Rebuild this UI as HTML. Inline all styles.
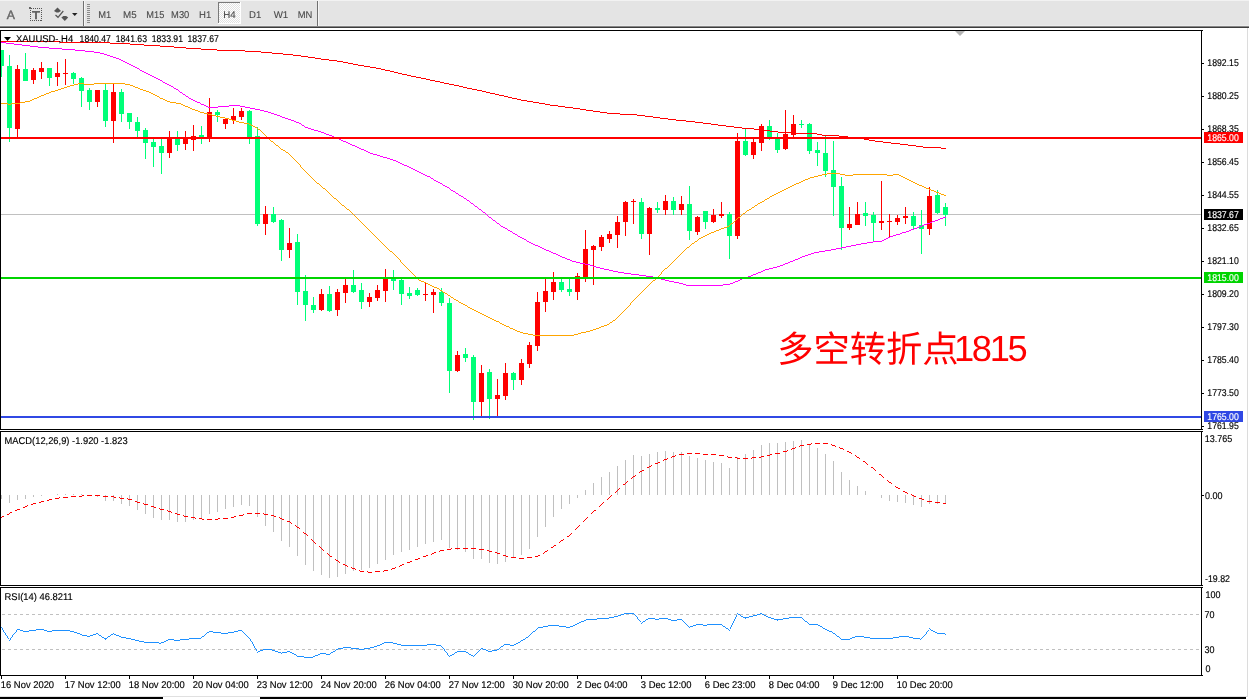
<!DOCTYPE html><html><head><meta charset="utf-8"><title>XAUUSD H4</title>
<style>html,body{margin:0;padding:0;background:#fff}body{width:1249px;height:699px;overflow:hidden}svg{display:block}text{font-family:"Liberation Sans",sans-serif;font-size:9.8px;fill:#000;white-space:pre;stroke:#000;stroke-width:.15px;text-rendering:geometricPrecision}.cj{font-family:"Liberation Sans","Noto Sans CJK SC",sans-serif}.tb{fill:#484848;font-size:9.9px;stroke:#484848;stroke-width:.1px}.cj{stroke:none}</style></head><body>
<svg width="1249" height="699" viewBox="0 0 1249 699">
<rect width="1249" height="699" fill="#fff"/>
<g id="toolbar" shape-rendering="crispEdges">
<rect x="0" y="0" width="1249" height="26" fill="#e4e4e4"/>
<rect x="0" y="25" width="1249" height="1" fill="#ebebeb"/>
<rect x="0" y="0" width="1249" height="1" fill="#f2f2f2"/>
<rect x="0" y="26" width="1249" height="1" fill="#868686"/>
<rect x="0" y="27" width="1249" height="1" fill="#3c3c3c"/>
<rect x="83" y="1" width="1" height="25" fill="#707070"/><rect x="84" y="1" width="1" height="25" fill="#f6f6f6"/>
<rect x="87" y="4" width="3" height="1" fill="#8c8c8c"/>
<rect x="87" y="6" width="3" height="1" fill="#8c8c8c"/>
<rect x="87" y="8" width="3" height="1" fill="#8c8c8c"/>
<rect x="87" y="10" width="3" height="1" fill="#8c8c8c"/>
<rect x="87" y="12" width="3" height="1" fill="#8c8c8c"/>
<rect x="87" y="14" width="3" height="1" fill="#8c8c8c"/>
<rect x="87" y="16" width="3" height="1" fill="#8c8c8c"/>
<rect x="87" y="18" width="3" height="1" fill="#8c8c8c"/>
<rect x="87" y="20" width="3" height="1" fill="#8c8c8c"/>
<rect x="87" y="22" width="3" height="1" fill="#8c8c8c"/>
<rect x="317" y="1" width="1" height="25" fill="#707070"/><rect x="318" y="1" width="1" height="25" fill="#f6f6f6"/>
<defs><pattern id="chk" width="2" height="2" patternUnits="userSpaceOnUse"><rect width="2" height="2" fill="#ffffff"/><rect width="1" height="1" fill="#e2e2e2"/><rect x="1" y="1" width="1" height="1" fill="#e2e2e2"/></pattern></defs>
<rect x="218" y="2" width="23" height="22" fill="url(#chk)"/>
<rect x="218" y="2" width="23" height="1" fill="#7a7a7a"/><rect x="218" y="2" width="1" height="22" fill="#7a7a7a"/>
<rect x="218" y="23" width="23" height="1" fill="#ffffff"/><rect x="240" y="2" width="1" height="22" fill="#ffffff"/>
</g>
<g id="icons">
<text x="6.7" y="19" style="font-size:12.2px;fill:#666;stroke:#666;stroke-width:.4px">A</text>
<rect x="30.5" y="8.5" width="11" height="12" fill="none" stroke="#555" stroke-width="1" stroke-dasharray="1 1" shape-rendering="crispEdges"/>
<rect x="29" y="7" width="2" height="2" fill="#666"/>
<text x="32" y="19" textLength="8" lengthAdjust="spacingAndGlyphs" style="font-size:11.2px;fill:#555;stroke:#555;stroke-width:.5px">T</text>
<path d="M57.5 7.5 L61 11 L58.5 12.5 L56.5 12.5 L54 11 Z" fill="#555"/>
<path d="M61.4 17.6 L63.4 16 L66.2 16 L68.2 17.6 L64.8 21 Z" fill="#555"/>
<path d="M55.5 15 L58 17.3 L63.3 11" fill="none" stroke="#555" stroke-width="1.2"/>
<path d="M72 13 L77.5 13 L74.75 16 Z" fill="#222"/>
</g>
<text class="tb" x="98.3" y="17.8" textLength="13.0" lengthAdjust="spacingAndGlyphs">M1</text>
<text class="tb" x="123.1" y="17.8" textLength="13.6" lengthAdjust="spacingAndGlyphs">M5</text>
<text class="tb" x="146.3" y="17.8" textLength="18.0" lengthAdjust="spacingAndGlyphs">M15</text>
<text class="tb" x="171.1" y="17.8" textLength="18.2" lengthAdjust="spacingAndGlyphs">M30</text>
<text class="tb" x="199.1" y="17.8" textLength="12.2" lengthAdjust="spacingAndGlyphs">H1</text>
<text class="tb" x="223.3" y="17.8" textLength="12.4" lengthAdjust="spacingAndGlyphs">H4</text>
<text class="tb" x="249.1" y="17.8" textLength="12.2" lengthAdjust="spacingAndGlyphs">D1</text>
<text class="tb" x="273.7" y="17.8" textLength="14.6" lengthAdjust="spacingAndGlyphs">W1</text>
<text class="tb" x="297.7" y="17.8" textLength="14.6" lengthAdjust="spacingAndGlyphs">MN</text>
<g id="main" shape-rendering="crispEdges">
<rect x="1" y="214" width="1200" height="1" fill="#c0c0c0"/>
<rect x="1" y="50" width="1" height="27" fill="#00ff78"/>
<rect x="1" y="50" width="3" height="16" fill="#00ff78"/>
<rect x="9" y="55" width="1" height="87" fill="#00ff78"/>
<rect x="7" y="66" width="5" height="62" fill="#00ff78"/>
<rect x="17" y="65" width="1" height="74" fill="#ff0000"/>
<rect x="15" y="69" width="5" height="60" fill="#ff0000"/>
<rect x="25" y="53" width="1" height="28" fill="#00ff78"/>
<rect x="23" y="69" width="5" height="12" fill="#00ff78"/>
<rect x="33" y="68" width="1" height="16" fill="#ff0000"/>
<rect x="31" y="70" width="5" height="10" fill="#ff0000"/>
<rect x="41" y="62" width="1" height="17" fill="#ff0000"/>
<rect x="39" y="68" width="5" height="4" fill="#ff0000"/>
<rect x="49" y="68" width="1" height="18" fill="#00ff78"/>
<rect x="47" y="68" width="5" height="10" fill="#00ff78"/>
<rect x="57" y="62" width="1" height="24" fill="#ff0000"/>
<rect x="55" y="73" width="5" height="4" fill="#ff0000"/>
<rect x="65" y="59" width="1" height="26" fill="#ff0000"/>
<rect x="63" y="73" width="5" height="1" fill="#ff0000"/>
<rect x="73" y="72" width="1" height="12" fill="#00ff78"/>
<rect x="71" y="73" width="5" height="6" fill="#00ff78"/>
<rect x="81" y="77" width="1" height="30" fill="#00ff78"/>
<rect x="79" y="78" width="5" height="13" fill="#00ff78"/>
<rect x="89" y="88" width="1" height="22" fill="#00ff78"/>
<rect x="87" y="90" width="5" height="12" fill="#00ff78"/>
<rect x="97" y="90" width="1" height="17" fill="#ff0000"/>
<rect x="95" y="90" width="5" height="12" fill="#ff0000"/>
<rect x="105" y="84" width="1" height="43" fill="#00ff78"/>
<rect x="103" y="90" width="5" height="31" fill="#00ff78"/>
<rect x="113" y="84" width="1" height="59" fill="#ff0000"/>
<rect x="111" y="92" width="5" height="29" fill="#ff0000"/>
<rect x="121" y="89" width="1" height="33" fill="#00ff78"/>
<rect x="119" y="92" width="5" height="22" fill="#00ff78"/>
<rect x="129" y="113" width="1" height="16" fill="#00ff78"/>
<rect x="127" y="113" width="5" height="9" fill="#00ff78"/>
<rect x="137" y="117" width="1" height="20" fill="#00ff78"/>
<rect x="135" y="122" width="5" height="9" fill="#00ff78"/>
<rect x="145" y="128" width="1" height="31" fill="#00ff78"/>
<rect x="143" y="130" width="5" height="13" fill="#00ff78"/>
<rect x="153" y="139" width="1" height="28" fill="#00ff78"/>
<rect x="151" y="142" width="5" height="5" fill="#00ff78"/>
<rect x="161" y="139" width="1" height="35" fill="#00ff78"/>
<rect x="159" y="146" width="5" height="7" fill="#00ff78"/>
<rect x="169" y="131" width="1" height="27" fill="#ff0000"/>
<rect x="167" y="139" width="5" height="14" fill="#ff0000"/>
<rect x="177" y="131" width="1" height="20" fill="#00ff78"/>
<rect x="175" y="139" width="5" height="6" fill="#00ff78"/>
<rect x="185" y="131" width="1" height="19" fill="#ff0000"/>
<rect x="183" y="138" width="5" height="6" fill="#ff0000"/>
<rect x="193" y="125" width="1" height="26" fill="#ff0000"/>
<rect x="191" y="136" width="5" height="4" fill="#ff0000"/>
<rect x="201" y="126" width="1" height="18" fill="#00ff78"/>
<rect x="199" y="135" width="5" height="3" fill="#00ff78"/>
<rect x="209" y="98" width="1" height="44" fill="#ff0000"/>
<rect x="207" y="112" width="5" height="26" fill="#ff0000"/>
<rect x="217" y="110" width="1" height="12" fill="#00ff78"/>
<rect x="215" y="112" width="5" height="3" fill="#00ff78"/>
<rect x="225" y="119" width="1" height="10" fill="#ff0000"/>
<rect x="223" y="119" width="5" height="5" fill="#ff0000"/>
<rect x="233" y="108" width="1" height="16" fill="#ff0000"/>
<rect x="231" y="116" width="5" height="4" fill="#ff0000"/>
<rect x="241" y="108" width="1" height="12" fill="#ff0000"/>
<rect x="239" y="111" width="5" height="6" fill="#ff0000"/>
<rect x="249" y="110" width="1" height="34" fill="#00ff78"/>
<rect x="247" y="111" width="5" height="27" fill="#00ff78"/>
<rect x="257" y="127" width="1" height="99" fill="#00ff78"/>
<rect x="255" y="136" width="5" height="88" fill="#00ff78"/>
<rect x="265" y="206" width="1" height="29" fill="#ff0000"/>
<rect x="263" y="214" width="5" height="10" fill="#ff0000"/>
<rect x="273" y="207" width="1" height="16" fill="#00ff78"/>
<rect x="271" y="214" width="5" height="8" fill="#00ff78"/>
<rect x="281" y="219" width="1" height="42" fill="#00ff78"/>
<rect x="279" y="220" width="5" height="30" fill="#00ff78"/>
<rect x="289" y="228" width="1" height="30" fill="#ff0000"/>
<rect x="287" y="243" width="5" height="7" fill="#ff0000"/>
<rect x="297" y="234" width="1" height="71" fill="#00ff78"/>
<rect x="295" y="242" width="5" height="50" fill="#00ff78"/>
<rect x="305" y="275" width="1" height="46" fill="#00ff78"/>
<rect x="303" y="291" width="5" height="14" fill="#00ff78"/>
<rect x="313" y="297" width="1" height="16" fill="#00ff78"/>
<rect x="311" y="305" width="5" height="5" fill="#00ff78"/>
<rect x="321" y="289" width="1" height="22" fill="#ff0000"/>
<rect x="319" y="294" width="5" height="16" fill="#ff0000"/>
<rect x="329" y="286" width="1" height="26" fill="#00ff78"/>
<rect x="327" y="294" width="5" height="17" fill="#00ff78"/>
<rect x="337" y="289" width="1" height="27" fill="#ff0000"/>
<rect x="335" y="292" width="5" height="18" fill="#ff0000"/>
<rect x="345" y="279" width="1" height="24" fill="#ff0000"/>
<rect x="343" y="285" width="5" height="8" fill="#ff0000"/>
<rect x="353" y="270" width="1" height="23" fill="#00ff78"/>
<rect x="351" y="285" width="5" height="7" fill="#00ff78"/>
<rect x="361" y="283" width="1" height="26" fill="#00ff78"/>
<rect x="359" y="290" width="5" height="12" fill="#00ff78"/>
<rect x="369" y="293" width="1" height="14" fill="#ff0000"/>
<rect x="367" y="297" width="5" height="5" fill="#ff0000"/>
<rect x="377" y="285" width="1" height="16" fill="#ff0000"/>
<rect x="375" y="290" width="5" height="8" fill="#ff0000"/>
<rect x="385" y="269" width="1" height="33" fill="#ff0000"/>
<rect x="383" y="279" width="5" height="12" fill="#ff0000"/>
<rect x="393" y="270" width="1" height="20" fill="#00ff78"/>
<rect x="391" y="279" width="5" height="2" fill="#00ff78"/>
<rect x="401" y="279" width="1" height="26" fill="#00ff78"/>
<rect x="399" y="280" width="5" height="14" fill="#00ff78"/>
<rect x="409" y="287" width="1" height="12" fill="#00ff78"/>
<rect x="407" y="293" width="5" height="3" fill="#00ff78"/>
<rect x="417" y="288" width="1" height="8" fill="#00ff78"/>
<rect x="415" y="290" width="5" height="5" fill="#00ff78"/>
<rect x="425" y="282" width="1" height="19" fill="#ff0000"/>
<rect x="423" y="294" width="5" height="1" fill="#ff0000"/>
<rect x="433" y="289" width="1" height="24" fill="#ff0000"/>
<rect x="431" y="292" width="5" height="3" fill="#ff0000"/>
<rect x="441" y="288" width="1" height="18" fill="#00ff78"/>
<rect x="439" y="292" width="5" height="11" fill="#00ff78"/>
<rect x="449" y="298" width="1" height="95" fill="#00ff78"/>
<rect x="447" y="303" width="5" height="68" fill="#00ff78"/>
<rect x="457" y="351" width="1" height="21" fill="#ff0000"/>
<rect x="455" y="355" width="5" height="16" fill="#ff0000"/>
<rect x="465" y="348" width="1" height="14" fill="#00ff78"/>
<rect x="463" y="354" width="5" height="4" fill="#00ff78"/>
<rect x="473" y="355" width="1" height="65" fill="#00ff78"/>
<rect x="471" y="357" width="5" height="45" fill="#00ff78"/>
<rect x="481" y="365" width="1" height="52" fill="#ff0000"/>
<rect x="479" y="373" width="5" height="29" fill="#ff0000"/>
<rect x="489" y="369" width="1" height="50" fill="#00ff78"/>
<rect x="487" y="372" width="5" height="27" fill="#00ff78"/>
<rect x="497" y="379" width="1" height="38" fill="#ff0000"/>
<rect x="495" y="395" width="5" height="4" fill="#ff0000"/>
<rect x="505" y="363" width="1" height="37" fill="#ff0000"/>
<rect x="503" y="373" width="5" height="23" fill="#ff0000"/>
<rect x="513" y="372" width="1" height="18" fill="#00ff78"/>
<rect x="511" y="373" width="5" height="7" fill="#00ff78"/>
<rect x="521" y="359" width="1" height="26" fill="#ff0000"/>
<rect x="519" y="363" width="5" height="17" fill="#ff0000"/>
<rect x="529" y="342" width="1" height="26" fill="#ff0000"/>
<rect x="527" y="345" width="5" height="19" fill="#ff0000"/>
<rect x="537" y="292" width="1" height="59" fill="#ff0000"/>
<rect x="535" y="302" width="5" height="44" fill="#ff0000"/>
<rect x="545" y="279" width="1" height="33" fill="#ff0000"/>
<rect x="543" y="291" width="5" height="11" fill="#ff0000"/>
<rect x="553" y="272" width="1" height="28" fill="#ff0000"/>
<rect x="551" y="282" width="5" height="10" fill="#ff0000"/>
<rect x="561" y="279" width="1" height="13" fill="#00ff78"/>
<rect x="559" y="282" width="5" height="8" fill="#00ff78"/>
<rect x="569" y="279" width="1" height="17" fill="#00ff78"/>
<rect x="567" y="289" width="5" height="3" fill="#00ff78"/>
<rect x="577" y="273" width="1" height="27" fill="#ff0000"/>
<rect x="575" y="276" width="5" height="16" fill="#ff0000"/>
<rect x="585" y="230" width="1" height="52" fill="#ff0000"/>
<rect x="583" y="249" width="5" height="29" fill="#ff0000"/>
<rect x="593" y="245" width="1" height="40" fill="#ff0000"/>
<rect x="591" y="246" width="5" height="4" fill="#ff0000"/>
<rect x="601" y="235" width="1" height="16" fill="#ff0000"/>
<rect x="599" y="237" width="5" height="10" fill="#ff0000"/>
<rect x="609" y="231" width="1" height="12" fill="#ff0000"/>
<rect x="607" y="234" width="5" height="5" fill="#ff0000"/>
<rect x="617" y="216" width="1" height="32" fill="#ff0000"/>
<rect x="615" y="222" width="5" height="13" fill="#ff0000"/>
<rect x="625" y="201" width="1" height="35" fill="#ff0000"/>
<rect x="623" y="202" width="5" height="20" fill="#ff0000"/>
<rect x="633" y="199" width="1" height="25" fill="#ff0000"/>
<rect x="631" y="201" width="5" height="1" fill="#ff0000"/>
<rect x="641" y="198" width="1" height="41" fill="#00ff78"/>
<rect x="639" y="202" width="5" height="32" fill="#00ff78"/>
<rect x="649" y="207" width="1" height="48" fill="#ff0000"/>
<rect x="647" y="208" width="5" height="26" fill="#ff0000"/>
<rect x="657" y="202" width="1" height="11" fill="#00ff78"/>
<rect x="655" y="208" width="5" height="2" fill="#00ff78"/>
<rect x="665" y="195" width="1" height="20" fill="#ff0000"/>
<rect x="663" y="201" width="5" height="9" fill="#ff0000"/>
<rect x="673" y="197" width="1" height="18" fill="#00ff78"/>
<rect x="671" y="201" width="5" height="9" fill="#00ff78"/>
<rect x="681" y="196" width="1" height="19" fill="#ff0000"/>
<rect x="679" y="204" width="5" height="6" fill="#ff0000"/>
<rect x="689" y="186" width="1" height="54" fill="#00ff78"/>
<rect x="687" y="204" width="5" height="27" fill="#00ff78"/>
<rect x="697" y="216" width="1" height="19" fill="#ff0000"/>
<rect x="695" y="217" width="5" height="15" fill="#ff0000"/>
<rect x="705" y="211" width="1" height="18" fill="#00ff78"/>
<rect x="703" y="211" width="5" height="11" fill="#00ff78"/>
<rect x="713" y="209" width="1" height="14" fill="#ff0000"/>
<rect x="711" y="215" width="5" height="7" fill="#ff0000"/>
<rect x="721" y="202" width="1" height="16" fill="#ff0000"/>
<rect x="719" y="214" width="5" height="2" fill="#ff0000"/>
<rect x="729" y="212" width="1" height="47" fill="#00ff78"/>
<rect x="727" y="214" width="5" height="22" fill="#00ff78"/>
<rect x="737" y="133" width="1" height="106" fill="#ff0000"/>
<rect x="735" y="141" width="5" height="95" fill="#ff0000"/>
<rect x="745" y="129" width="1" height="27" fill="#00ff78"/>
<rect x="743" y="141" width="5" height="14" fill="#00ff78"/>
<rect x="753" y="139" width="1" height="20" fill="#ff0000"/>
<rect x="751" y="142" width="5" height="13" fill="#ff0000"/>
<rect x="761" y="124" width="1" height="27" fill="#ff0000"/>
<rect x="759" y="126" width="5" height="17" fill="#ff0000"/>
<rect x="769" y="120" width="1" height="20" fill="#00ff78"/>
<rect x="767" y="126" width="5" height="12" fill="#00ff78"/>
<rect x="777" y="133" width="1" height="20" fill="#00ff78"/>
<rect x="775" y="139" width="5" height="11" fill="#00ff78"/>
<rect x="785" y="110" width="1" height="40" fill="#ff0000"/>
<rect x="783" y="134" width="5" height="15" fill="#ff0000"/>
<rect x="793" y="115" width="1" height="23" fill="#ff0000"/>
<rect x="791" y="124" width="5" height="11" fill="#ff0000"/>
<rect x="801" y="120" width="1" height="8" fill="#00ff78"/>
<rect x="799" y="124" width="5" height="1" fill="#00ff78"/>
<rect x="809" y="123" width="1" height="31" fill="#00ff78"/>
<rect x="807" y="124" width="5" height="27" fill="#00ff78"/>
<rect x="817" y="142" width="1" height="24" fill="#00ff78"/>
<rect x="815" y="150" width="5" height="3" fill="#00ff78"/>
<rect x="825" y="136" width="1" height="41" fill="#00ff78"/>
<rect x="823" y="153" width="5" height="18" fill="#00ff78"/>
<rect x="833" y="141" width="1" height="75" fill="#00ff78"/>
<rect x="831" y="170" width="5" height="17" fill="#00ff78"/>
<rect x="841" y="177" width="1" height="73" fill="#00ff78"/>
<rect x="839" y="186" width="5" height="42" fill="#00ff78"/>
<rect x="849" y="207" width="1" height="23" fill="#ff0000"/>
<rect x="847" y="224" width="5" height="4" fill="#ff0000"/>
<rect x="857" y="202" width="1" height="23" fill="#ff0000"/>
<rect x="855" y="214" width="5" height="11" fill="#ff0000"/>
<rect x="865" y="202" width="1" height="24" fill="#00ff78"/>
<rect x="863" y="213" width="5" height="3" fill="#00ff78"/>
<rect x="873" y="212" width="1" height="29" fill="#00ff78"/>
<rect x="871" y="215" width="5" height="8" fill="#00ff78"/>
<rect x="881" y="181" width="1" height="49" fill="#ff0000"/>
<rect x="879" y="221" width="5" height="2" fill="#ff0000"/>
<rect x="889" y="214" width="1" height="23" fill="#ff0000"/>
<rect x="887" y="221" width="5" height="1" fill="#ff0000"/>
<rect x="897" y="215" width="1" height="10" fill="#ff0000"/>
<rect x="895" y="218" width="5" height="4" fill="#ff0000"/>
<rect x="905" y="207" width="1" height="17" fill="#ff0000"/>
<rect x="903" y="216" width="5" height="2" fill="#ff0000"/>
<rect x="913" y="212" width="1" height="18" fill="#00ff78"/>
<rect x="911" y="216" width="5" height="10" fill="#00ff78"/>
<rect x="921" y="210" width="1" height="44" fill="#00ff78"/>
<rect x="919" y="225" width="5" height="4" fill="#00ff78"/>
<rect x="929" y="187" width="1" height="48" fill="#ff0000"/>
<rect x="927" y="196" width="5" height="33" fill="#ff0000"/>
<rect x="937" y="190" width="1" height="24" fill="#00ff78"/>
<rect x="935" y="195" width="5" height="18" fill="#00ff78"/>
<rect x="945" y="203" width="1" height="23" fill="#00ff78"/>
<rect x="943" y="207" width="5" height="8" fill="#00ff78"/>
<path d="M1 41.5h59M60 42.5h50M110 43.5h20M130 44.5h14M144 45.5h16M160 46.5h14M174 47.5h12M186 48.5h15M201 49.5h16M217 50.5h28M245 51.5h16M261 52.5h11M272 53.5h11M283 54.5h10M293 55.5h8M301 56.5h7M308 57.5h7M315 58.5h6M321 59.5h8M329 60.5h8M337 61.5h6M343 62.5h5M348 63.5h5M353 64.5h5M358 65.5h6M364 66.5h6M370 67.5h6M376 68.5h5M381 69.5h4M385 70.5h5M390 71.5h4M394 72.5h4M398 73.5h4M402 74.5h5M407 75.5h4M411 76.5h5M416 77.5h5M421 78.5h5M426 79.5h4M430 80.5h5M435 81.5h5M440 82.5h4M444 83.5h5M449 84.5h5M454 85.5h5M459 86.5h4M463 87.5h4M467 88.5h5M472 89.5h5M477 90.5h5M482 91.5h4M486 92.5h4M490 93.5h5M495 94.5h4M499 95.5h5M504 96.5h4M508 97.5h4M512 98.5h5M517 99.5h4M521 100.5h6M527 101.5h6M533 102.5h6M539 103.5h6M545 104.5h5M550 105.5h8M558 106.5h7M565 107.5h8M573 108.5h7M580 109.5h6M586 110.5h7M593 111.5h7M600 112.5h7M607 113.5h13M620 114.5h17M637 115.5h8M645 116.5h8M653 117.5h7M660 118.5h8M668 119.5h8M676 120.5h10M686 121.5h9M695 122.5h8M703 123.5h8M711 124.5h7M718 125.5h8M726 126.5h8M734 127.5h8M742 128.5h12M754 129.5h9M763 130.5h7M770 131.5h8M778 132.5h15M793 133.5h24M817 134.5h5M822 135.5h17M839 136.5h9M848 137.5h9M857 138.5h7M864 139.5h5M869 140.5h6M875 141.5h8M883 142.5h8M891 143.5h9M900 144.5h8M908 145.5h8M916 146.5h7M923 147.5h18M941 148.5h5" fill="none" stroke="#ff0000" stroke-width="1"/>
<path d="M1 42.5h5M6 43.5h8M14 44.5h8M22 45.5h8M30 46.5h8M38 47.5h11M49 48.5h13M62 49.5h13M75 50.5h10M85 51.5h9M94 52.5h6M100 53.5h4M104 54.5h3M107 55.5h3M110 56.5h3M113 57.5h3M116 58.5h3M119 59.5h2M121 60.5h2M123 61.5h2M125 62.5h2M127 63.5h2M129 64.5h2M131 65.5h2M133 66.5h2M135 67.5h2M137 68.5h2M139 69.5h1M140 70.5h2M142 71.5h2M144 72.5h2M146 73.5h2M148 74.5h2M150 75.5h2M152 76.5h2M154 77.5h2M156 78.5h2M158 79.5h2M160 80.5h2M162 81.5h1M163 82.5h2M165 83.5h2M167 84.5h2M169 85.5h2M171 86.5h2M173 87.5h1M174 88.5h2M176 89.5h2M178 90.5h1M179 91.5h1M180 92.5h2M182 93.5h1M183 94.5h2M185 95.5h1M186 96.5h2M188 97.5h1M189 98.5h2M191 99.5h2M193 100.5h2M195 101.5h2M197 102.5h3M200 103.5h1M201 104.5h3M204 105.5h2M229 105.5h11M206 106.5h2M218 106.5h11M240 106.5h5M208 107.5h10M245 107.5h5M250 108.5h5M255 109.5h5M260 110.5h4M264 111.5h4M268 112.5h3M271 113.5h3M274 114.5h3M277 115.5h3M280 116.5h2M282 117.5h3M285 118.5h3M288 119.5h3M291 120.5h3M294 121.5h2M296 122.5h3M299 123.5h2M301 124.5h1M302 125.5h2M304 126.5h1M305 127.5h3M308 128.5h3M311 129.5h3M314 130.5h4M318 131.5h3M321 132.5h3M324 133.5h2M326 134.5h3M329 135.5h3M332 136.5h2M334 137.5h2M336 138.5h3M339 139.5h2M341 140.5h2M343 141.5h3M346 142.5h2M348 143.5h2M350 144.5h2M352 145.5h3M355 146.5h2M357 147.5h2M359 148.5h2M361 149.5h3M364 150.5h2M366 151.5h2M368 152.5h2M370 153.5h3M373 154.5h4M377 155.5h3M380 156.5h3M383 157.5h4M387 158.5h3M390 159.5h3M393 160.5h3M396 161.5h2M398 162.5h2M400 163.5h2M402 164.5h2M404 165.5h3M407 166.5h2M409 167.5h2M411 168.5h2M413 169.5h2M415 170.5h2M417 171.5h2M419 172.5h2M421 173.5h2M423 174.5h2M425 175.5h2M427 176.5h3M430 177.5h1M431 178.5h2M433 179.5h1M434 180.5h2M436 181.5h2M438 182.5h2M440 183.5h2M442 184.5h1M443 185.5h2M445 186.5h2M447 187.5h2M449 188.5h1M450 189.5h1M451 190.5h2M453 191.5h2M455 192.5h1M456 193.5h2M458 194.5h1M459 195.5h2M461 196.5h2M463 197.5h1M464 198.5h2M466 199.5h1M467 200.5h2M469 201.5h1M470 202.5h1M471 203.5h2M473 204.5h1M474 205.5h1M475 206.5h2M477 207.5h1M478 208.5h1M479 209.5h2M481 210.5h1M482 211.5h1M483 212.5h2M485 213.5h1M486 214.5h1M487 215.5h1M488 216.5h1M489 217.5h2M943 217.5h3M491 218.5h1M940 218.5h3M492 219.5h1M938 219.5h2M493 220.5h2M935 220.5h3M495 221.5h1M932 221.5h3M496 222.5h1M930 222.5h2M497 223.5h2M927 223.5h3M499 224.5h1M924 224.5h3M500 225.5h1M922 225.5h2M501 226.5h2M919 226.5h3M503 227.5h2M917 227.5h2M505 228.5h2M914 228.5h3M507 229.5h1M911 229.5h3M508 230.5h2M909 230.5h2M510 231.5h2M906 231.5h3M512 232.5h1M902 232.5h4M513 233.5h2M900 233.5h2M515 234.5h2M896 234.5h4M517 235.5h1M893 235.5h3M518 236.5h2M890 236.5h3M520 237.5h2M888 237.5h2M522 238.5h2M886 238.5h2M524 239.5h2M884 239.5h2M526 240.5h1M882 240.5h2M527 241.5h2M873 241.5h9M529 242.5h2M867 242.5h6M531 243.5h2M861 243.5h6M533 244.5h2M856 244.5h5M535 245.5h3M851 245.5h5M538 246.5h2M846 246.5h5M540 247.5h2M841 247.5h5M542 248.5h2M836 248.5h5M544 249.5h2M831 249.5h5M546 250.5h3M825 250.5h6M549 251.5h2M819 251.5h6M551 252.5h2M814 252.5h5M553 253.5h3M811 253.5h3M556 254.5h2M808 254.5h3M558 255.5h2M805 255.5h3M560 256.5h2M802 256.5h3M562 257.5h3M800 257.5h2M565 258.5h2M798 258.5h2M567 259.5h3M795 259.5h3M570 260.5h2M793 260.5h2M572 261.5h4M790 261.5h3M576 262.5h4M788 262.5h2M580 263.5h5M785 263.5h3M585 264.5h5M783 264.5h2M590 265.5h3M780 265.5h3M593 266.5h3M777 266.5h3M596 267.5h4M773 267.5h4M600 268.5h4M769 268.5h4M604 269.5h5M765 269.5h4M609 270.5h4M763 270.5h2M613 271.5h5M761 271.5h2M618 272.5h6M758 272.5h3M624 273.5h7M756 273.5h2M631 274.5h8M753 274.5h3M639 275.5h7M751 275.5h2M646 276.5h7M748 276.5h3M653 277.5h4M745 277.5h3M657 278.5h4M742 278.5h3M661 279.5h4M740 279.5h2M665 280.5h4M738 280.5h2M669 281.5h5M735 281.5h3M674 282.5h5M733 282.5h2M679 283.5h4M730 283.5h3M683 284.5h3M723 284.5h7M686 285.5h37" fill="none" stroke="#ff00ff" stroke-width="1"/>
<path d="M78 83.5h6M94 83.5h31M74 84.5h4M84 84.5h10M125 84.5h5M70 85.5h4M130 85.5h3M67 86.5h3M133 86.5h2M64 87.5h3M135 87.5h3M61 88.5h3M138 88.5h2M58 89.5h3M140 89.5h3M55 90.5h3M143 90.5h3M51 91.5h4M146 91.5h3M49 92.5h2M149 92.5h2M46 93.5h3M151 93.5h2M44 94.5h2M153 94.5h2M41 95.5h3M155 95.5h2M39 96.5h2M157 96.5h2M37 97.5h2M159 97.5h1M34 98.5h3M160 98.5h3M32 99.5h2M163 99.5h2M30 100.5h2M165 100.5h2M25 101.5h5M167 101.5h3M20 102.5h5M170 102.5h6M1 103.5h7M11 103.5h9M176 103.5h5M8 104.5h3M181 104.5h2M183 105.5h2M185 106.5h3M188 107.5h2M190 108.5h2M192 109.5h3M195 110.5h3M198 111.5h2M200 112.5h4M204 113.5h4M208 114.5h4M212 115.5h4M216 116.5h4M220 117.5h5M225 118.5h4M229 119.5h3M232 120.5h4M236 121.5h3M239 122.5h5M244 123.5h5M249 124.5h2M251 125.5h2M253 126.5h2M255 127.5h2M257 128.5h1M258 129.5h2M260 130.5h1M261 131.5h1M262 132.5h1M263 133.5h1M264 134.5h1M265 135.5h1M266 136.5h1M267 137.5h1M268 138.5h1M269 139.5h1M270 140.5h1M271 141.5h2M273 142.5h1M274 143.5h1M275 144.5h1M276 145.5h2M278 146.5h1M279 147.5h1M280 148.5h1M281 149.5h2M283 150.5h2M285 151.5h1M286 152.5h2M288 153.5h1M289 154.5h1M290 155.5h1M291 156.5h1M292 157.5h1M293 158.5h1M294 159.5h1M295 160.5h1M296 161.5h1M297 162.5h1M298 163.5h1M299 164.5h1M300 165.5h1M300 166.5h1M301 167.5h1M302 168.5h1M303 169.5h1M304 170.5h1M305 171.5h1M306 172.5h1M307 173.5h1M827 173.5h13M308 174.5h1M822 174.5h5M840 174.5h5M853 174.5h34M893 174.5h6M309 175.5h1M818 175.5h4M845 175.5h8M887 175.5h6M899 175.5h2M310 176.5h1M814 176.5h4M901 176.5h2M311 177.5h1M810 177.5h4M903 177.5h2M312 178.5h1M808 178.5h2M905 178.5h2M313 179.5h1M805 179.5h3M907 179.5h2M314 180.5h1M803 180.5h2M909 180.5h2M315 181.5h1M801 181.5h2M911 181.5h2M316 182.5h1M799 182.5h2M913 182.5h2M317 183.5h2M796 183.5h3M915 183.5h2M319 184.5h1M794 184.5h2M917 184.5h2M320 185.5h1M792 185.5h2M919 185.5h3M321 186.5h1M790 186.5h2M922 186.5h2M322 187.5h1M788 187.5h2M924 187.5h2M323 188.5h2M786 188.5h2M926 188.5h3M325 189.5h1M784 189.5h2M929 189.5h2M326 190.5h1M782 190.5h2M931 190.5h3M327 191.5h1M780 191.5h2M934 191.5h2M328 192.5h1M778 192.5h2M936 192.5h3M329 193.5h1M776 193.5h2M939 193.5h2M330 194.5h1M774 194.5h2M941 194.5h3M331 195.5h1M772 195.5h2M944 195.5h2M332 196.5h1M770 196.5h2M333 197.5h1M769 197.5h1M334 198.5h2M767 198.5h2M336 199.5h1M765 199.5h2M337 200.5h1M764 200.5h1M338 201.5h1M762 201.5h2M339 202.5h1M760 202.5h2M340 203.5h1M758 203.5h2M341 204.5h1M757 204.5h1M342 205.5h2M755 205.5h2M344 206.5h1M754 206.5h1M345 207.5h1M752 207.5h2M346 208.5h1M751 208.5h1M347 209.5h2M749 209.5h2M349 210.5h1M747 210.5h2M350 211.5h1M746 211.5h1M351 212.5h1M745 212.5h1M352 213.5h1M743 213.5h2M353 214.5h1M742 214.5h1M354 215.5h1M741 215.5h1M355 216.5h1M740 216.5h1M356 217.5h1M738 217.5h2M357 218.5h1M737 218.5h1M358 219.5h1M736 219.5h1M359 220.5h1M735 220.5h1M360 221.5h1M734 221.5h1M361 222.5h1M733 222.5h1M362 223.5h1M731 223.5h2M363 224.5h1M730 224.5h1M364 225.5h1M729 225.5h1M365 226.5h1M727 226.5h2M366 227.5h1M724 227.5h3M367 228.5h1M721 228.5h3M368 229.5h1M719 229.5h2M369 230.5h1M716 230.5h3M370 231.5h1M714 231.5h2M371 232.5h1M711 232.5h3M372 233.5h1M709 233.5h2M373 234.5h1M707 234.5h2M374 235.5h1M705 235.5h2M375 236.5h1M703 236.5h2M376 237.5h1M701 237.5h2M377 238.5h1M699 238.5h2M378 239.5h1M698 239.5h1M379 240.5h1M697 240.5h1M380 241.5h1M695 241.5h2M381 242.5h1M694 242.5h1M382 243.5h1M692 243.5h2M383 244.5h1M691 244.5h1M384 245.5h1M690 245.5h1M385 246.5h1M689 246.5h1M386 247.5h1M687 247.5h2M387 248.5h1M686 248.5h1M388 249.5h1M685 249.5h1M389 250.5h1M684 250.5h1M390 251.5h2M683 251.5h1M392 252.5h1M682 252.5h1M393 253.5h1M681 253.5h1M394 254.5h1M680 254.5h1M395 255.5h1M679 255.5h1M396 256.5h1M678 256.5h1M397 257.5h1M677 257.5h1M398 258.5h1M676 258.5h1M399 259.5h1M675 259.5h1M400 260.5h1M674 260.5h1M400 261.5h1M673 261.5h1M401 262.5h1M672 262.5h1M402 263.5h1M671 263.5h1M403 264.5h1M670 264.5h1M404 265.5h1M669 265.5h1M405 266.5h1M668 266.5h1M406 267.5h1M667 267.5h1M407 268.5h1M665 268.5h2M408 269.5h1M664 269.5h1M409 270.5h1M663 270.5h1M410 271.5h1M662 271.5h1M411 272.5h1M661 272.5h1M412 273.5h1M661 273.5h1M413 274.5h1M660 274.5h1M414 275.5h1M659 275.5h1M415 276.5h1M658 276.5h1M416 277.5h1M657 277.5h1M417 278.5h1M656 278.5h1M418 279.5h1M655 279.5h1M419 280.5h2M653 280.5h2M421 281.5h3M652 281.5h1M424 282.5h2M651 282.5h1M426 283.5h2M650 283.5h1M428 284.5h2M649 284.5h1M430 285.5h2M648 285.5h1M432 286.5h2M647 286.5h1M434 287.5h3M646 287.5h1M437 288.5h2M645 288.5h1M439 289.5h1M644 289.5h1M440 290.5h2M643 290.5h1M442 291.5h1M642 291.5h1M443 292.5h2M641 292.5h1M445 293.5h2M640 293.5h1M447 294.5h1M639 294.5h1M448 295.5h2M638 295.5h1M450 296.5h1M637 296.5h1M451 297.5h2M636 297.5h1M453 298.5h1M635 298.5h1M454 299.5h2M634 299.5h1M456 300.5h2M633 300.5h1M458 301.5h1M632 301.5h1M459 302.5h2M631 302.5h1M461 303.5h2M630 303.5h1M463 304.5h2M630 304.5h1M465 305.5h2M629 305.5h1M467 306.5h1M628 306.5h1M468 307.5h2M627 307.5h1M470 308.5h2M626 308.5h1M472 309.5h2M625 309.5h1M474 310.5h2M624 310.5h1M476 311.5h2M623 311.5h1M478 312.5h2M622 312.5h1M480 313.5h2M621 313.5h1M482 314.5h2M620 314.5h1M484 315.5h2M619 315.5h1M486 316.5h2M618 316.5h1M488 317.5h2M617 317.5h1M490 318.5h2M616 318.5h1M492 319.5h2M615 319.5h1M494 320.5h2M613 320.5h2M496 321.5h3M612 321.5h1M499 322.5h1M610 322.5h2M500 323.5h2M609 323.5h1M502 324.5h2M607 324.5h2M504 325.5h2M604 325.5h3M506 326.5h3M601 326.5h3M509 327.5h1M599 327.5h2M510 328.5h3M596 328.5h3M513 329.5h2M593 329.5h3M515 330.5h2M590 330.5h3M517 331.5h3M586 331.5h4M520 332.5h3M581 332.5h5M523 333.5h5M578 333.5h3M528 334.5h5M574 334.5h4M533 335.5h41" fill="none" stroke="#ffa500" stroke-width="1"/>
<rect x="1" y="137" width="1200" height="2" fill="#ff0000"/>
<rect x="1" y="277" width="1200" height="2" fill="#00d400"/>
<rect x="1" y="416" width="1200" height="2" fill="#3048e4"/>
<rect x="0" y="30" width="1203" height="1" fill="#000"/>
<rect x="0" y="429" width="1203" height="1" fill="#000"/>
<rect x="0" y="30" width="1" height="400" fill="#000"/>
<rect x="1201" y="30" width="1" height="400" fill="#000"/>
<path d="M955 31 L965 31 L960 36 Z" fill="#b4b4b4" shape-rendering="auto"/>
<path d="M4 37 L11 37 L7.5 41 Z" fill="#000" shape-rendering="auto"/>
<rect x="1202" y="63" width="2" height="1" fill="#000"/>
<rect x="1202" y="96" width="2" height="1" fill="#000"/>
<rect x="1202" y="129" width="2" height="1" fill="#000"/>
<rect x="1202" y="162" width="2" height="1" fill="#000"/>
<rect x="1202" y="195" width="2" height="1" fill="#000"/>
<rect x="1202" y="228" width="2" height="1" fill="#000"/>
<rect x="1202" y="261" width="2" height="1" fill="#000"/>
<rect x="1202" y="294" width="2" height="1" fill="#000"/>
<rect x="1202" y="327" width="2" height="1" fill="#000"/>
<rect x="1202" y="360" width="2" height="1" fill="#000"/>
<rect x="1202" y="393" width="2" height="1" fill="#000"/>
<rect x="1202" y="426" width="2" height="1" fill="#000"/>
<rect x="1204" y="132" width="39" height="11" fill="#ff0000"/>
<rect x="1204" y="209" width="39" height="11" fill="#000"/>
<rect x="1204" y="272" width="39" height="11" fill="#00d400"/>
<rect x="1204" y="411" width="39" height="11" fill="#3048e4"/>
</g>
<text x="1207.3" y="66.4" textLength="31.5" lengthAdjust="spacingAndGlyphs" xml:space="preserve">1892.15</text>
<text x="1207.3" y="99.4" textLength="31.5" lengthAdjust="spacingAndGlyphs" xml:space="preserve">1880.25</text>
<text x="1207.3" y="132.4" textLength="31.5" lengthAdjust="spacingAndGlyphs" xml:space="preserve">1868.35</text>
<text x="1207.3" y="165.4" textLength="31.5" lengthAdjust="spacingAndGlyphs" xml:space="preserve">1856.45</text>
<text x="1207.3" y="198.4" textLength="31.5" lengthAdjust="spacingAndGlyphs" xml:space="preserve">1844.55</text>
<text x="1207.3" y="231.4" textLength="31.5" lengthAdjust="spacingAndGlyphs" xml:space="preserve">1832.65</text>
<text x="1207.3" y="264.4" textLength="31.5" lengthAdjust="spacingAndGlyphs" xml:space="preserve">1821.10</text>
<text x="1207.3" y="297.4" textLength="31.5" lengthAdjust="spacingAndGlyphs" xml:space="preserve">1809.20</text>
<text x="1207.3" y="330.4" textLength="31.5" lengthAdjust="spacingAndGlyphs" xml:space="preserve">1797.30</text>
<text x="1207.3" y="363.4" textLength="31.5" lengthAdjust="spacingAndGlyphs" xml:space="preserve">1785.40</text>
<text x="1207.3" y="396.4" textLength="31.5" lengthAdjust="spacingAndGlyphs" xml:space="preserve">1773.50</text>
<text x="1207.3" y="429.4" textLength="31.5" lengthAdjust="spacingAndGlyphs" xml:space="preserve">1761.95</text>
<rect x="1204" y="132" width="39" height="11" fill="#ff0000" shape-rendering="crispEdges"/>
<rect x="1204" y="411" width="39" height="11" fill="#3048e4" shape-rendering="crispEdges"/>
<text x="1207.3" y="140.8" textLength="31.5" lengthAdjust="spacingAndGlyphs" xml:space="preserve" style="fill:#fff;stroke:#fff">1865.00</text>
<text x="1207.3" y="217.8" textLength="31.5" lengthAdjust="spacingAndGlyphs" xml:space="preserve" style="fill:#fff;stroke:#fff">1837.67</text>
<text x="1207.3" y="280.8" textLength="31.5" lengthAdjust="spacingAndGlyphs" xml:space="preserve" style="fill:#fff;stroke:#fff">1815.00</text>
<text x="1207.3" y="419.8" textLength="31.5" lengthAdjust="spacingAndGlyphs" xml:space="preserve" style="fill:#fff;stroke:#fff">1765.00</text>
<text x="16" y="42" textLength="57.2" lengthAdjust="spacingAndGlyphs" xml:space="preserve">XAUUSD-,H4</text>
<text x="79.6" y="42" textLength="31.3" lengthAdjust="spacingAndGlyphs" xml:space="preserve">1840.47</text>
<text x="115.7" y="42" textLength="31.3" lengthAdjust="spacingAndGlyphs" xml:space="preserve">1841.63</text>
<text x="151.7" y="42" textLength="31.3" lengthAdjust="spacingAndGlyphs" xml:space="preserve">1833.91</text>
<text x="187.5" y="42" textLength="31.3" lengthAdjust="spacingAndGlyphs" xml:space="preserve">1837.67</text>
<text class="cj" x="777.2" y="362.1" style="font-size:36.3px;fill:#ff0000">多空转折点<tspan dx="-4.8" dy="-0.8" style="letter-spacing:-2.3px">1815</tspan></text>
<g id="macd" shape-rendering="crispEdges">
<rect x="1" y="495" width="1" height="4" fill="#c0c0c0"/>
<rect x="9" y="495" width="1" height="8" fill="#c0c0c0"/>
<rect x="17" y="495" width="1" height="5" fill="#c0c0c0"/>
<rect x="25" y="495" width="1" height="4" fill="#c0c0c0"/>
<rect x="33" y="495" width="1" height="2" fill="#c0c0c0"/>
<rect x="41" y="495" width="1" height="1" fill="#c0c0c0"/>
<rect x="57" y="494" width="1" height="1" fill="#c0c0c0"/>
<rect x="65" y="494" width="1" height="1" fill="#c0c0c0"/>
<rect x="73" y="494" width="1" height="1" fill="#c0c0c0"/>
<rect x="81" y="494" width="1" height="1" fill="#c0c0c0"/>
<rect x="97" y="495" width="1" height="2" fill="#c0c0c0"/>
<rect x="105" y="495" width="1" height="6" fill="#c0c0c0"/>
<rect x="113" y="495" width="1" height="6" fill="#c0c0c0"/>
<rect x="121" y="495" width="1" height="9" fill="#c0c0c0"/>
<rect x="129" y="495" width="1" height="11" fill="#c0c0c0"/>
<rect x="137" y="495" width="1" height="15" fill="#c0c0c0"/>
<rect x="145" y="495" width="1" height="19" fill="#c0c0c0"/>
<rect x="153" y="495" width="1" height="23" fill="#c0c0c0"/>
<rect x="161" y="495" width="1" height="25" fill="#c0c0c0"/>
<rect x="169" y="495" width="1" height="25" fill="#c0c0c0"/>
<rect x="177" y="495" width="1" height="27" fill="#c0c0c0"/>
<rect x="185" y="495" width="1" height="27" fill="#c0c0c0"/>
<rect x="193" y="495" width="1" height="25" fill="#c0c0c0"/>
<rect x="201" y="495" width="1" height="23" fill="#c0c0c0"/>
<rect x="209" y="495" width="1" height="19" fill="#c0c0c0"/>
<rect x="217" y="495" width="1" height="17" fill="#c0c0c0"/>
<rect x="225" y="495" width="1" height="14" fill="#c0c0c0"/>
<rect x="233" y="495" width="1" height="12" fill="#c0c0c0"/>
<rect x="241" y="495" width="1" height="10" fill="#c0c0c0"/>
<rect x="249" y="495" width="1" height="11" fill="#c0c0c0"/>
<rect x="257" y="495" width="1" height="22" fill="#c0c0c0"/>
<rect x="265" y="495" width="1" height="31" fill="#c0c0c0"/>
<rect x="273" y="495" width="1" height="37" fill="#c0c0c0"/>
<rect x="281" y="495" width="1" height="46" fill="#c0c0c0"/>
<rect x="289" y="495" width="1" height="52" fill="#c0c0c0"/>
<rect x="297" y="495" width="1" height="61" fill="#c0c0c0"/>
<rect x="305" y="495" width="1" height="70" fill="#c0c0c0"/>
<rect x="313" y="495" width="1" height="76" fill="#c0c0c0"/>
<rect x="321" y="495" width="1" height="80" fill="#c0c0c0"/>
<rect x="329" y="495" width="1" height="83" fill="#c0c0c0"/>
<rect x="337" y="495" width="1" height="82" fill="#c0c0c0"/>
<rect x="345" y="495" width="1" height="79" fill="#c0c0c0"/>
<rect x="353" y="495" width="1" height="76" fill="#c0c0c0"/>
<rect x="361" y="495" width="1" height="75" fill="#c0c0c0"/>
<rect x="369" y="495" width="1" height="73" fill="#c0c0c0"/>
<rect x="377" y="495" width="1" height="69" fill="#c0c0c0"/>
<rect x="385" y="495" width="1" height="65" fill="#c0c0c0"/>
<rect x="393" y="495" width="1" height="60" fill="#c0c0c0"/>
<rect x="401" y="495" width="1" height="57" fill="#c0c0c0"/>
<rect x="409" y="495" width="1" height="55" fill="#c0c0c0"/>
<rect x="417" y="495" width="1" height="52" fill="#c0c0c0"/>
<rect x="425" y="495" width="1" height="49" fill="#c0c0c0"/>
<rect x="433" y="495" width="1" height="47" fill="#c0c0c0"/>
<rect x="441" y="495" width="1" height="45" fill="#c0c0c0"/>
<rect x="449" y="495" width="1" height="53" fill="#c0c0c0"/>
<rect x="457" y="495" width="1" height="55" fill="#c0c0c0"/>
<rect x="465" y="495" width="1" height="57" fill="#c0c0c0"/>
<rect x="473" y="495" width="1" height="64" fill="#c0c0c0"/>
<rect x="481" y="495" width="1" height="64" fill="#c0c0c0"/>
<rect x="489" y="495" width="1" height="68" fill="#c0c0c0"/>
<rect x="497" y="495" width="1" height="69" fill="#c0c0c0"/>
<rect x="505" y="495" width="1" height="67" fill="#c0c0c0"/>
<rect x="513" y="495" width="1" height="62" fill="#c0c0c0"/>
<rect x="521" y="495" width="1" height="60" fill="#c0c0c0"/>
<rect x="529" y="495" width="1" height="54" fill="#c0c0c0"/>
<rect x="537" y="495" width="1" height="42" fill="#c0c0c0"/>
<rect x="545" y="495" width="1" height="32" fill="#c0c0c0"/>
<rect x="553" y="495" width="1" height="22" fill="#c0c0c0"/>
<rect x="561" y="495" width="1" height="14" fill="#c0c0c0"/>
<rect x="569" y="495" width="1" height="9" fill="#c0c0c0"/>
<rect x="577" y="495" width="1" height="3" fill="#c0c0c0"/>
<rect x="585" y="490" width="1" height="5" fill="#c0c0c0"/>
<rect x="593" y="483" width="1" height="12" fill="#c0c0c0"/>
<rect x="601" y="477" width="1" height="18" fill="#c0c0c0"/>
<rect x="609" y="472" width="1" height="23" fill="#c0c0c0"/>
<rect x="617" y="466" width="1" height="29" fill="#c0c0c0"/>
<rect x="625" y="460" width="1" height="35" fill="#c0c0c0"/>
<rect x="633" y="455" width="1" height="40" fill="#c0c0c0"/>
<rect x="641" y="456" width="1" height="39" fill="#c0c0c0"/>
<rect x="649" y="454" width="1" height="41" fill="#c0c0c0"/>
<rect x="657" y="452" width="1" height="43" fill="#c0c0c0"/>
<rect x="665" y="451" width="1" height="44" fill="#c0c0c0"/>
<rect x="673" y="452" width="1" height="43" fill="#c0c0c0"/>
<rect x="681" y="452" width="1" height="43" fill="#c0c0c0"/>
<rect x="689" y="456" width="1" height="39" fill="#c0c0c0"/>
<rect x="697" y="458" width="1" height="37" fill="#c0c0c0"/>
<rect x="705" y="460" width="1" height="35" fill="#c0c0c0"/>
<rect x="713" y="462" width="1" height="33" fill="#c0c0c0"/>
<rect x="721" y="463" width="1" height="32" fill="#c0c0c0"/>
<rect x="729" y="468" width="1" height="27" fill="#c0c0c0"/>
<rect x="737" y="457" width="1" height="38" fill="#c0c0c0"/>
<rect x="745" y="454" width="1" height="41" fill="#c0c0c0"/>
<rect x="753" y="450" width="1" height="45" fill="#c0c0c0"/>
<rect x="761" y="445" width="1" height="50" fill="#c0c0c0"/>
<rect x="769" y="443" width="1" height="52" fill="#c0c0c0"/>
<rect x="777" y="443" width="1" height="52" fill="#c0c0c0"/>
<rect x="785" y="442" width="1" height="53" fill="#c0c0c0"/>
<rect x="793" y="441" width="1" height="54" fill="#c0c0c0"/>
<rect x="801" y="440" width="1" height="55" fill="#c0c0c0"/>
<rect x="809" y="444" width="1" height="51" fill="#c0c0c0"/>
<rect x="817" y="448" width="1" height="47" fill="#c0c0c0"/>
<rect x="825" y="454" width="1" height="41" fill="#c0c0c0"/>
<rect x="833" y="461" width="1" height="34" fill="#c0c0c0"/>
<rect x="841" y="472" width="1" height="23" fill="#c0c0c0"/>
<rect x="849" y="480" width="1" height="15" fill="#c0c0c0"/>
<rect x="857" y="486" width="1" height="9" fill="#c0c0c0"/>
<rect x="865" y="491" width="1" height="4" fill="#c0c0c0"/>
<rect x="881" y="495" width="1" height="3" fill="#c0c0c0"/>
<rect x="889" y="495" width="1" height="6" fill="#c0c0c0"/>
<rect x="897" y="495" width="1" height="7" fill="#c0c0c0"/>
<rect x="905" y="495" width="1" height="8" fill="#c0c0c0"/>
<rect x="913" y="495" width="1" height="10" fill="#c0c0c0"/>
<rect x="921" y="495" width="1" height="12" fill="#c0c0c0"/>
<rect x="929" y="495" width="1" height="9" fill="#c0c0c0"/>
<rect x="937" y="495" width="1" height="9" fill="#c0c0c0"/>
<rect x="945" y="495" width="1" height="8" fill="#c0c0c0"/>
<path d="M811 443.5h1M815 443.5h5M823 443.5h5M807 444.5h4M831 444.5h1M800 445.5h4M832 445.5h3M799 446.5h1M835 446.5h1M795 447.5h1M839 447.5h1M792 448.5h3M840 448.5h3M791 449.5h1M843 449.5h1M787 450.5h1M783 451.5h4M847 451.5h2M849 452.5h2M687 453.5h5M695 453.5h5M775 453.5h5M851 453.5h1M679 454.5h5M703 454.5h5M711 454.5h5M770 454.5h2M675 455.5h1M719 455.5h5M767 455.5h3M855 455.5h1M672 456.5h3M727 456.5h1M761 456.5h3M856 456.5h1M671 457.5h1M728 457.5h4M735 457.5h2M752 457.5h4M759 457.5h2M857 457.5h2M667 458.5h1M737 458.5h3M743 458.5h5M751 458.5h1M859 458.5h1M664 459.5h3M663 460.5h1M863 461.5h2M658 462.5h2M865 462.5h1M655 463.5h3M866 463.5h1M867 464.5h1M651 465.5h1M649 466.5h2M647 467.5h2M871 467.5h2M873 468.5h1M874 469.5h1M642 470.5h2M875 470.5h1M640 471.5h2M639 472.5h1M879 474.5h2M635 475.5h1M881 475.5h1M633 476.5h2M882 476.5h1M632 477.5h1M883 477.5h1M631 478.5h1M887 480.5h1M627 481.5h1M888 481.5h1M626 482.5h1M889 482.5h2M625 483.5h1M891 483.5h1M623 484.5h2M895 486.5h1M896 487.5h2M619 488.5h1M898 488.5h2M618 489.5h1M617 490.5h1M616 491.5h1M903 491.5h2M615 492.5h1M905 492.5h2M907 493.5h1M911 494.5h1M82 495.5h2M87 495.5h5M95 495.5h5M611 495.5h1M912 495.5h2M71 496.5h5M79 496.5h3M103 496.5h5M111 496.5h3M610 496.5h1M914 496.5h2M59 497.5h1M63 497.5h5M114 497.5h2M119 497.5h1M609 497.5h1M55 498.5h4M120 498.5h4M127 498.5h1M608 498.5h1M919 498.5h3M49 499.5h3M128 499.5h4M607 499.5h1M922 499.5h2M47 500.5h2M41 501.5h3M135 501.5h2M927 501.5h5M39 502.5h2M137 502.5h3M603 502.5h1M935 502.5h5M33 503.5h3M143 503.5h1M602 503.5h1M943 503.5h3M31 504.5h2M144 504.5h4M601 504.5h1M27 505.5h1M600 505.5h1M25 506.5h2M151 506.5h3M599 506.5h1M23 507.5h2M154 507.5h2M159 508.5h1M17 509.5h3M160 509.5h4M15 510.5h2M167 510.5h1M594 510.5h2M168 511.5h3M593 511.5h1M10 512.5h2M171 512.5h1M592 512.5h1M9 513.5h1M175 513.5h2M247 513.5h5M255 513.5h5M263 513.5h1M591 513.5h1M7 514.5h2M177 514.5h3M243 514.5h1M264 514.5h4M183 515.5h1M239 515.5h4M271 515.5h3M2 516.5h2M184 516.5h4M234 516.5h2M274 516.5h2M1 517.5h1M191 517.5h4M231 517.5h3M279 517.5h1M587 517.5h1M195 518.5h1M199 518.5h3M218 518.5h2M223 518.5h5M280 518.5h2M586 518.5h1M202 519.5h2M207 519.5h5M215 519.5h3M282 519.5h2M585 519.5h1M584 520.5h1M287 521.5h3M583 521.5h1M290 522.5h1M291 523.5h1M295 525.5h1M579 525.5h1M296 526.5h1M578 526.5h1M297 527.5h2M577 527.5h1M299 528.5h1M576 528.5h1M575 529.5h1M303 532.5h1M304 533.5h2M571 533.5h1M306 534.5h1M570 534.5h1M307 535.5h1M569 535.5h1M567 536.5h2M311 539.5h1M563 539.5h1M312 540.5h1M561 540.5h2M313 541.5h1M560 541.5h1M314 542.5h1M559 542.5h1M315 543.5h1M554 545.5h2M319 546.5h1M553 546.5h1M320 547.5h1M551 547.5h2M321 548.5h1M451 548.5h1M455 548.5h5M463 548.5h5M471 548.5h5M322 549.5h1M447 549.5h4M479 549.5h5M323 550.5h1M440 550.5h4M487 550.5h2M547 550.5h1M439 551.5h1M489 551.5h3M545 551.5h2M434 552.5h2M495 552.5h2M544 552.5h1M327 553.5h1M432 553.5h2M497 553.5h3M543 553.5h1M328 554.5h1M431 554.5h1M329 555.5h1M426 555.5h2M503 555.5h3M538 555.5h2M330 556.5h2M423 556.5h3M506 556.5h2M535 556.5h3M511 557.5h5M527 557.5h5M418 558.5h2M519 558.5h5M335 559.5h1M415 559.5h3M336 560.5h2M338 561.5h1M410 561.5h2M339 562.5h1M407 562.5h3M343 564.5h2M402 564.5h2M345 565.5h2M400 565.5h2M347 566.5h1M399 566.5h1M351 567.5h1M395 567.5h1M352 568.5h3M392 568.5h3M355 569.5h1M391 569.5h1M359 570.5h1M384 570.5h4M360 571.5h4M367 571.5h1M375 571.5h5M383 571.5h1M368 572.5h4" fill="none" stroke="#ff0000" stroke-width="1"/>
<rect x="0" y="431" width="1203" height="1" fill="#000"/>
<rect x="0" y="585" width="1203" height="1" fill="#000"/>
<rect x="0" y="431" width="1" height="155" fill="#000"/>
<rect x="1201" y="431" width="1" height="155" fill="#000"/>
<rect x="1202" y="495" width="2" height="1" fill="#000"/>
</g>
<text x="4.6" y="443.7" textLength="123.0" lengthAdjust="spacingAndGlyphs" xml:space="preserve">MACD(12,26,9) -1.920 -1.823</text>
<text x="1204.7" y="441.8" textLength="27.5" lengthAdjust="spacingAndGlyphs" xml:space="preserve">13.765</text>
<text x="1205" y="498.8" textLength="17.5" lengthAdjust="spacingAndGlyphs" xml:space="preserve">0.00</text>
<text x="1205" y="582.2" textLength="25.0" lengthAdjust="spacingAndGlyphs" xml:space="preserve">-19.82</text>
<g id="rsi" shape-rendering="crispEdges">
<line x1="2" y1="614.5" x2="1201" y2="614.5" stroke="#c0c0c0" stroke-width="1" stroke-dasharray="3 3"/>
<line x1="2" y1="649.5" x2="1201" y2="649.5" stroke="#c0c0c0" stroke-width="1" stroke-dasharray="3 3"/>
<path d="M624 613.5h10M737 613.5h1M760 613.5h2M621 614.5h3M634 614.5h1M738 614.5h2M757 614.5h3M762 614.5h2M618 615.5h3M635 615.5h1M736 615.5h1M740 615.5h1M753 615.5h4M764 615.5h2M614 616.5h4M636 616.5h1M736 616.5h1M741 616.5h2M749 616.5h4M766 616.5h2M609 617.5h5M637 617.5h1M735 617.5h1M743 617.5h6M768 617.5h3M789 617.5h13M597 618.5h12M637 618.5h1M648 618.5h7M659 618.5h9M735 618.5h1M745 618.5h1M771 618.5h3M783 618.5h6M802 618.5h1M586 619.5h11M638 619.5h1M646 619.5h2M655 619.5h4M668 619.5h3M677 619.5h5M734 619.5h1M774 619.5h9M803 619.5h1M584 620.5h2M639 620.5h1M645 620.5h1M671 620.5h6M682 620.5h1M734 620.5h1M777 620.5h1M804 620.5h1M581 621.5h3M640 621.5h1M643 621.5h2M683 621.5h1M733 621.5h1M805 621.5h2M579 622.5h2M642 622.5h1M684 622.5h1M733 622.5h1M807 622.5h1M577 623.5h2M641 623.5h1M685 623.5h1M732 623.5h1M808 623.5h1M575 624.5h2M686 624.5h1M696 624.5h7M707 624.5h15M732 624.5h1M809 624.5h9M548 625.5h11M573 625.5h2M687 625.5h1M693 625.5h3M703 625.5h4M722 625.5h1M731 625.5h1M818 625.5h2M543 626.5h5M559 626.5h7M570 626.5h3M688 626.5h1M690 626.5h3M723 626.5h2M731 626.5h1M820 626.5h2M1 627.5h1M538 627.5h5M566 627.5h4M689 627.5h1M725 627.5h1M730 627.5h1M822 627.5h1M2 628.5h1M537 628.5h1M726 628.5h2M730 628.5h1M823 628.5h2M929 628.5h1M2 629.5h1M17 629.5h3M36 629.5h8M536 629.5h1M728 629.5h1M825 629.5h2M930 629.5h1M3 630.5h1M16 630.5h1M20 630.5h3M29 630.5h7M44 630.5h3M52 630.5h18M238 630.5h4M535 630.5h1M729 630.5h1M827 630.5h2M928 630.5h1M931 630.5h2M3 631.5h1M16 631.5h1M23 631.5h6M47 631.5h5M70 631.5h4M209 631.5h4M234 631.5h4M242 631.5h1M533 631.5h2M829 631.5h3M927 631.5h1M933 631.5h2M4 632.5h1M15 632.5h1M74 632.5h3M207 632.5h2M213 632.5h8M228 632.5h6M243 632.5h1M532 632.5h1M832 632.5h1M926 632.5h1M935 632.5h2M5 633.5h1M14 633.5h1M77 633.5h3M96 633.5h2M113 633.5h1M206 633.5h1M221 633.5h7M244 633.5h1M531 633.5h1M833 633.5h2M926 633.5h1M937 633.5h8M5 634.5h1M13 634.5h1M80 634.5h2M93 634.5h3M98 634.5h1M111 634.5h2M114 634.5h2M205 634.5h1M245 634.5h1M530 634.5h1M835 634.5h1M925 634.5h1M945 634.5h1M6 635.5h1M12 635.5h1M82 635.5h5M90 635.5h3M99 635.5h2M110 635.5h1M116 635.5h3M204 635.5h1M246 635.5h1M529 635.5h1M836 635.5h1M924 635.5h1M7 636.5h1M12 636.5h1M87 636.5h3M101 636.5h1M108 636.5h2M119 636.5h2M202 636.5h2M247 636.5h1M528 636.5h1M837 636.5h2M855 636.5h9M899 636.5h10M923 636.5h1M7 637.5h1M11 637.5h1M102 637.5h2M107 637.5h1M121 637.5h5M201 637.5h1M248 637.5h1M526 637.5h2M839 637.5h1M852 637.5h3M864 637.5h6M893 637.5h6M909 637.5h4M922 637.5h1M8 638.5h1M10 638.5h1M104 638.5h3M126 638.5h5M189 638.5h12M249 638.5h1M525 638.5h1M840 638.5h1M850 638.5h2M870 638.5h23M913 638.5h7M921 638.5h1M10 639.5h1M105 639.5h1M131 639.5h4M168 639.5h6M180 639.5h9M250 639.5h1M523 639.5h2M841 639.5h9M920 639.5h1M9 640.5h1M135 640.5h4M166 640.5h2M174 640.5h6M250 640.5h1M521 640.5h2M139 641.5h5M164 641.5h2M251 641.5h1M520 641.5h1M144 642.5h15M161 642.5h3M252 642.5h1M384 642.5h9M518 642.5h2M159 643.5h2M252 643.5h1M382 643.5h2M393 643.5h4M516 643.5h2M253 644.5h1M380 644.5h2M397 644.5h4M427 644.5h9M504 644.5h6M514 644.5h2M253 645.5h1M377 645.5h3M401 645.5h26M436 645.5h5M503 645.5h1M510 645.5h4M254 646.5h1M374 646.5h3M441 646.5h1M501 646.5h2M254 647.5h1M343 647.5h8M370 647.5h4M442 647.5h1M500 647.5h1M255 648.5h1M338 648.5h5M351 648.5h8M364 648.5h6M443 648.5h1M481 648.5h2M499 648.5h1M256 649.5h1M263 649.5h9M336 649.5h2M359 649.5h5M444 649.5h1M480 649.5h1M483 649.5h3M497 649.5h2M256 650.5h1M260 650.5h3M272 650.5h3M335 650.5h1M444 650.5h1M479 650.5h1M486 650.5h2M492 650.5h5M258 651.5h2M275 651.5h3M287 651.5h3M333 651.5h2M445 651.5h1M457 651.5h9M478 651.5h1M488 651.5h4M257 652.5h1M278 652.5h3M282 652.5h5M290 652.5h2M331 652.5h2M446 652.5h1M455 652.5h2M466 652.5h2M477 652.5h1M281 653.5h1M292 653.5h2M320 653.5h6M330 653.5h1M447 653.5h1M454 653.5h1M468 653.5h1M476 653.5h1M294 654.5h2M318 654.5h2M326 654.5h4M447 654.5h1M452 654.5h2M469 654.5h2M475 654.5h1M296 655.5h1M315 655.5h3M448 655.5h1M450 655.5h2M471 655.5h2M474 655.5h1M297 656.5h7M313 656.5h2M449 656.5h1M473 656.5h1M304 657.5h9" fill="none" stroke="#1e90ff" stroke-width="1"/>
<rect x="0" y="587" width="1203" height="1" fill="#000"/>
<rect x="0" y="675" width="1203" height="1" fill="#000"/>
<rect x="0" y="587" width="1" height="89" fill="#000"/>
<rect x="1201" y="587" width="1" height="89" fill="#000"/>
<rect x="1" y="676" width="1" height="3" fill="#000"/>
<rect x="65" y="676" width="1" height="3" fill="#000"/>
<rect x="129" y="676" width="1" height="3" fill="#000"/>
<rect x="193" y="676" width="1" height="3" fill="#000"/>
<rect x="257" y="676" width="1" height="3" fill="#000"/>
<rect x="321" y="676" width="1" height="3" fill="#000"/>
<rect x="385" y="676" width="1" height="3" fill="#000"/>
<rect x="449" y="676" width="1" height="3" fill="#000"/>
<rect x="513" y="676" width="1" height="3" fill="#000"/>
<rect x="577" y="676" width="1" height="3" fill="#000"/>
<rect x="641" y="676" width="1" height="3" fill="#000"/>
<rect x="705" y="676" width="1" height="3" fill="#000"/>
<rect x="769" y="676" width="1" height="3" fill="#000"/>
<rect x="833" y="676" width="1" height="3" fill="#000"/>
<rect x="897" y="676" width="1" height="3" fill="#000"/>
</g>
<text x="4.6" y="599.7" textLength="68.2" lengthAdjust="spacingAndGlyphs" xml:space="preserve">RSI(14) 46.8211</text>
<text x="1205.5" y="598.2" textLength="15.0" lengthAdjust="spacingAndGlyphs" xml:space="preserve">100</text>
<text x="1204.5" y="617.8" textLength="10.0" lengthAdjust="spacingAndGlyphs" xml:space="preserve">70</text>
<text x="1204.5" y="652.8" textLength="10.0" lengthAdjust="spacingAndGlyphs" xml:space="preserve">30</text>
<text x="1205.5" y="672.1" textLength="5.0" lengthAdjust="spacingAndGlyphs" xml:space="preserve">0</text>
<text x="0.8" y="688" textLength="53.3" lengthAdjust="spacingAndGlyphs" xml:space="preserve">16 Nov 2020</text>
<text x="64.8" y="688" textLength="55.9" lengthAdjust="spacingAndGlyphs" xml:space="preserve">17 Nov 12:00</text>
<text x="128.8" y="688" textLength="55.9" lengthAdjust="spacingAndGlyphs" xml:space="preserve">18 Nov 20:00</text>
<text x="192.8" y="688" textLength="55.9" lengthAdjust="spacingAndGlyphs" xml:space="preserve">20 Nov 04:00</text>
<text x="256.8" y="688" textLength="55.9" lengthAdjust="spacingAndGlyphs" xml:space="preserve">23 Nov 12:00</text>
<text x="320.8" y="688" textLength="55.9" lengthAdjust="spacingAndGlyphs" xml:space="preserve">24 Nov 20:00</text>
<text x="384.8" y="688" textLength="55.9" lengthAdjust="spacingAndGlyphs" xml:space="preserve">26 Nov 04:00</text>
<text x="448.8" y="688" textLength="55.9" lengthAdjust="spacingAndGlyphs" xml:space="preserve">27 Nov 12:00</text>
<text x="512.8" y="688" textLength="55.9" lengthAdjust="spacingAndGlyphs" xml:space="preserve">30 Nov 20:00</text>
<text x="576.8" y="688" textLength="50.7" lengthAdjust="spacingAndGlyphs" xml:space="preserve">2 Dec 04:00</text>
<text x="640.8" y="688" textLength="50.7" lengthAdjust="spacingAndGlyphs" xml:space="preserve">3 Dec 12:00</text>
<text x="704.8" y="688" textLength="50.7" lengthAdjust="spacingAndGlyphs" xml:space="preserve">6 Dec 23:00</text>
<text x="768.8" y="688" textLength="50.7" lengthAdjust="spacingAndGlyphs" xml:space="preserve">8 Dec 04:00</text>
<text x="832.8" y="688" textLength="50.7" lengthAdjust="spacingAndGlyphs" xml:space="preserve">9 Dec 12:00</text>
<text x="896.8" y="688" textLength="55.9" lengthAdjust="spacingAndGlyphs" xml:space="preserve">10 Dec 20:00</text>
<g shape-rendering="crispEdges"><rect x="0" y="696" width="1247" height="1" fill="#e0e0e0"/><rect x="0" y="697" width="163" height="2" fill="#000"/><rect x="260" y="697" width="986" height="2" fill="#000"/><rect x="1247" y="28" width="1" height="669" fill="#dcdcdc"/></g>
</svg></body></html>
